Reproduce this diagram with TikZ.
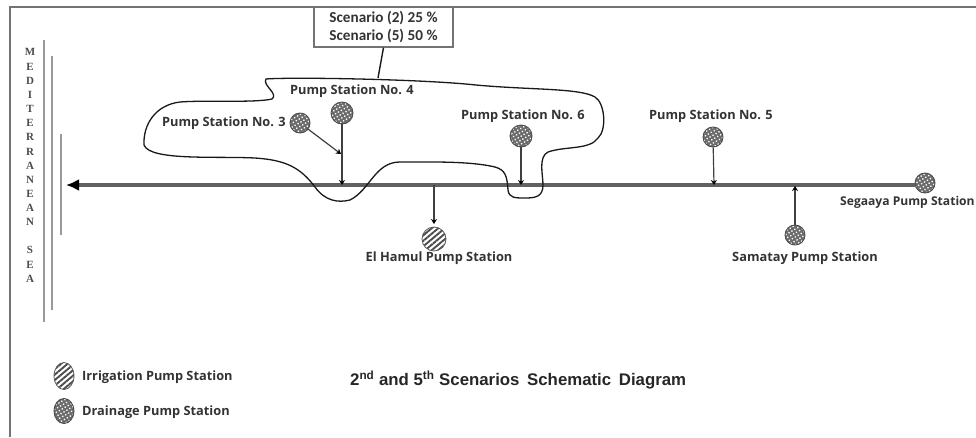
\documentclass[tikz,border=0pt]{standalone}
\usepackage{fontspec}
\setmainfont{Open Sans}
\newfontfamily\boxfont{Carlito}
\newfontfamily\titlefont{Liberation Sans}
\newfontfamily\seafont{Liberation Serif}
\usetikzlibrary{patterns,patterns.meta,arrows.meta,shapes.geometric}
\tikzset{
 x=1pt,y=-1pt,
 lbl/.style={font=\fontsize{12.8}{15}\selectfont\bfseries,text=black!80,inner sep=0pt},
 sealetter/.style={font=\seafont\fontsize{11}{13}\selectfont\bfseries,text=black!70,inner sep=0pt},
 drainage/.style={circle,draw=black!70,line width=0.9pt,minimum size=20pt,inner sep=0pt,preaction={fill=black!58},pattern color=white,pattern={Dots[distance=3.4pt,radius=0.95pt,angle=30]}},
 irrigation/.style={circle,draw=black!65,line width=0.8pt,minimum size=24pt,inner sep=0pt,pattern color=black!70,pattern={Lines[angle=40,distance=4.2pt,line width=1.9pt]}},
 feeder/.style={draw=black!75,line width=1.2pt,-{Stealth[length=5pt,width=6pt,black]}},
 outline/.style={draw=black!90,line width=1.3pt},
 sealine/.style={draw=black!40,line width=1.8pt},
 frameline/.style={draw=black!55,line width=1.3pt},
}
\begin{document}
\begin{tikzpicture}
\useasboundingbox (0,0) rectangle (976,437);
\coordinate (ftl) at (10,7); \coordinate (ftr) at (976,7); \coordinate (fbl) at (10,437);
\draw[frameline] (fbl) -- (ftl) -- (ftr);
% sea lines
\coordinate (s1a) at (44,40); \coordinate (s1b) at (44,322);
\coordinate (s2a) at (52,56); \coordinate (s2b) at (52,310);
\coordinate (s3a) at (61,134); \coordinate (s3b) at (61,235);
\draw[sealine] (s1a)--(s1b); \draw[sealine] (s2a)--(s2b); \draw[sealine] (s3a)--(s3b);
% sea text
\foreach \c/\y in {M/52,E/67,D/81,I/95,T/109,E/123,R/137,R/152,A/166,N/180,E/194,A/208,N/222,S/250,E/265,A/279}
  \node[sealetter] at (30,\y) {\c};
% stations
\node[drainage] (ps3) at (300,123) {};
\node[drainage,minimum size=22pt] (ps4) at (342,113) {};
\node[drainage,minimum size=22pt] (ps6) at (521,136) {};
\node[drainage] (ps5) at (713,137) {};
\node[drainage] (seg) at (925,183) {};
\node[drainage] (sam) at (795,235) {};
\node[irrigation] (ham) at (434,239) {};
% main
\coordinate (mainend) at (66,185);
\draw[draw=black!62,line width=3.2pt,-{Latex[length=13pt,width=12pt,black]}] (seg.west |- mainend) -- (mainend);
% junction points
\coordinate (j4) at (342,185); \coordinate (j3) at (341,154);
\coordinate (j6) at (521,185); \coordinate (j5) at (714,185);
\coordinate (jsam) at (795,186); \coordinate (jham) at (434,185); \coordinate (hamend) at (434,224);
\draw[feeder] (ps4) -- (j4);
\draw[feeder] (ps3) -- (j3);
\draw[feeder] (ps6) -- (j6);
\draw[feeder] (ps5) -- (j5);
\draw[feeder] (sam) -- (jsam);
\draw[feeder] (jham) -- (hamend);
% outline
\draw[outline] (266,79)
 .. controls (290,77) and (420,79) .. (476,85)
 .. controls (530,90) and (580,88) .. (595,97)
 .. controls (605,103) and (607,130) .. (598,138)
 .. controls (590,150) and (565,146) .. (548,152)
 .. controls (538,157) and (543,175) .. (543,185)
 .. controls (543,197) and (535,198) .. (525,198)
 .. controls (515,198) and (509,198) .. (508,190)
 .. controls (507,175) and (505,170) .. (495,167)
 .. controls (470,161) and (430,162) .. (400,162)
 .. controls (375,162) and (370,190) .. (350,200)
 .. controls (338,203) and (325,201) .. (315,187)
 .. controls (300,167) and (285,160) .. (255,158)
 .. controls (215,156) and (150,161) .. (144,145)
 .. controls (143,125) and (155,105) .. (180,102)
 .. controls (205,100) and (255,103) .. (272,99)
 .. controls (279,94) and (262,85) .. (266,79) -- cycle;
% scenario box
\node[draw=black!55,fill=white,line width=1.2pt,minimum width=139pt,minimum height=40pt,inner sep=0pt,align=center,font=\boxfont\fontsize{15.2}{17.5}\selectfont\bfseries,text=black!80] (scn) at (383.5,27) {Scenario (2) 25 \%\\Scenario (5) 50 \%};
\coordinate (scnend) at (378,78);
\draw[draw=black!90,line width=1.4pt] (scn.south) -- (scnend);
% labels
\node[lbl] (l3) at (224,123) {Pump Station No. 3};
\node[lbl] (l4) at (352,91) {Pump Station No. 4};
\node[lbl] (l6) at (523,116) {Pump Station No. 6};
\node[lbl] (l5) at (711,116) {Pump Station No. 5};
\node[lbl,anchor=west,font=\fontsize{12.1}{15}\selectfont\bfseries] (lseg) at (840,202) {Segaaya Pump Station};
\node[lbl] (lsam) at (805,258) {Samatay Pump Station};
\node[lbl] (lham) at (439,258) {El Hamul Pump Station};
% legend
\node[irrigation,ellipse,minimum width=20pt,minimum height=27pt] (lg1) at (64,376) {};
\node[drainage,ellipse,minimum width=20pt,minimum height=25pt] (lg2) at (64,411) {};
\node[lbl,anchor=west] (t1) at (82,377) {Irrigation Pump Station};
\node[lbl,anchor=west] (t2) at (82,412) {Drainage Pump Station};
\node[inner sep=0pt,text=black!85,font=\titlefont\fontsize{16.8}{19}\selectfont\bfseries,anchor=west] (title) at (350,380) {2\textsuperscript{nd} and 5\textsuperscript{th} Scenarios\hspace{3pt} Schematic\hspace{3pt} Diagram};
\end{tikzpicture}
\end{document}
